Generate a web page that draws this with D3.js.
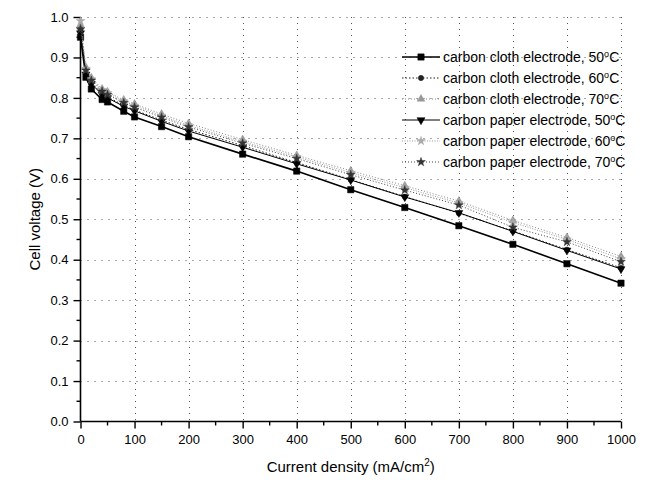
<!DOCTYPE html>
<html>
<head>
<meta charset="utf-8">
<script src="https://d3js.org/d3.v7.min.js"></script>
<style>
  body { margin: 0; background: #fff; }
  text { font-family: Arial, "Liberation Sans", sans-serif; fill: #000; }
</style>
</head>
<body>
<div id="chart"></div>
<script>
// current density points (mA/cm2)
const currents = [0, 10, 20, 40, 50, 80, 100, 150, 200, 300, 400, 500, 600, 700, 800, 900, 1000];

// cell voltage (V) for each run
const cloth50 = [0.95, 0.851, 0.822, 0.796, 0.790, 0.767, 0.753, 0.729, 0.704, 0.661, 0.619, 0.573, 0.529, 0.484, 0.438, 0.390, 0.342];
const cloth60 = [0.97, 0.862, 0.838, 0.810, 0.802, 0.782, 0.770, 0.745, 0.722, 0.682, 0.640, 0.598, 0.556, 0.515, 0.471, 0.425, 0.380];
const cloth70 = [0.98, 0.876, 0.850, 0.822, 0.815, 0.795, 0.785, 0.760, 0.737, 0.697, 0.658, 0.620, 0.583, 0.545, 0.497, 0.455, 0.408];
const paper50 = [0.96, 0.858, 0.835, 0.808, 0.800, 0.779, 0.768, 0.742, 0.718, 0.678, 0.637, 0.597, 0.555, 0.516, 0.470, 0.423, 0.377];
const paper60 = [0.99, 0.872, 0.846, 0.820, 0.812, 0.792, 0.781, 0.756, 0.732, 0.692, 0.654, 0.615, 0.578, 0.540, 0.492, 0.450, 0.402];
const paper70 = [0.97, 0.868, 0.843, 0.816, 0.808, 0.788, 0.777, 0.752, 0.728, 0.688, 0.650, 0.610, 0.572, 0.535, 0.480, 0.444, 0.395];

const seriesNames = [
  "carbon cloth electrode, 50°C",
  "carbon cloth electrode, 60°C",
  "carbon cloth electrode, 70°C",
  "carbon paper electrode, 50°C",
  "carbon paper electrode, 60°C",
  "carbon paper electrode, 70°C"
];
const seriesValues = [cloth50, cloth60, cloth70, paper50, paper60, paper70];

const xTicks = [0, 100, 200, 300, 400, 500, 600, 700, 800, 900, 1000];
const yTicks = [0.0, 0.1, 0.2, 0.3, 0.4, 0.5, 0.6, 0.7, 0.8, 0.9, 1.0];

// look of each run
const styles = [
  {color: "#000", width: 1.6, dash: null, symbol: d3.symbolSquare, size: 40, fill: "#000"},
  {color: "#222", width: 1, dash: "1.5,2", symbol: d3.symbolCircle, size: 22, fill: "#222"},
  {color: "#888", width: 1, dash: "1,2", symbol: d3.symbolTriangle, size: 26, fill: "#999"},
  {color: "#000", width: 1, dash: null, symbol: d3.symbolTriangle, size: 28, fill: "#000", rotate: 180},
  {color: "#999", width: 1, dash: "1,1.5", symbol: d3.symbolStar, size: 24, fill: "#aaa"},
  {color: "#444", width: 1, dash: "1,2", symbol: d3.symbolStar, size: 24, fill: "#333"}
];

const width = 651;
const height = 483;
const plotL = 80.5, plotR = 621, plotT = 17, plotB = 421.5;

const svg = d3.select("#chart")
  .append("svg")
  .attr("width", width)
  .attr("height", height);

const x = d3.scaleLinear().domain([0, 1000]).range([plotL, plotR]);
const y = d3.scaleLinear().domain([0, 1]).range([plotB, plotT]);

// dotted grid
const grid = svg.append("g");

grid.selectAll(".vgrid")
  .data(xTicks.slice(1))
  .enter().append("line")
    .attr("class", "vgrid")
    .attr("x1", d => Math.round(x(d)) + 0.5)
    .attr("x2", d => Math.round(x(d)) + 0.5)
    .attr("y1", plotT)
    .attr("y2", plotB)
    .attr("stroke", "#555")
    .attr("stroke-width", 1)
    .attr("stroke-dasharray", "1,5");

grid.selectAll(".hgrid")
  .data(yTicks.slice(1))
  .enter().append("line")
    .attr("class", "hgrid")
    .attr("x1", plotL)
    .attr("x2", plotR)
    .attr("y1", d => Math.round(y(d)) + 0.5)
    .attr("y2", d => Math.round(y(d)) + 0.5)
    .attr("stroke", "#555")
    .attr("stroke-width", 1)
    .attr("stroke-dasharray", "1,6");

// axes
const xAxis = d3.axisBottom(x).tickValues(xTicks).tickFormat(d3.format("d")).tickSize(7).tickPadding(6);
const yAxis = d3.axisLeft(y).tickValues(yTicks).tickFormat(d3.format(".1f")).tickSize(7).tickPadding(5);

const gx = svg.append("g")
  .attr("transform", `translate(0,${plotB})`)
  .call(xAxis);
gx.select(".domain").attr("d", `M${plotL},0H${plotR}`).attr("stroke-width", 1.6);
gx.selectAll(".tick line").attr("stroke-width", 1.4);
gx.selectAll("text").attr("font-size", 13);

gx.selectAll("line.minor")
  .data(d3.range(50, 1000, 100))
  .enter().append("line")
    .attr("x1", d => x(d)).attr("x2", d => x(d))
    .attr("y1", 0).attr("y2", 4)
    .attr("stroke", "#000").attr("stroke-width", 1.4);

const gy = svg.append("g")
  .attr("transform", `translate(${plotL},0)`)
  .call(yAxis);
gy.select(".domain").attr("d", `M0,${plotT}V${plotB}`).attr("stroke-width", 1.6);
gy.selectAll(".tick line").attr("stroke-width", 1.4);
gy.selectAll("text").attr("font-size", 13);

gy.selectAll("line.minor")
  .data(d3.range(0.05, 1, 0.1))
  .enter().append("line")
    .attr("x1", 0).attr("x2", -4)
    .attr("y1", d => y(d)).attr("y2", d => y(d))
    .attr("stroke", "#000").attr("stroke-width", 1.4);

// axis titles
const xt = svg.append("text")
  .attr("x", (plotL + plotR) / 2)
  .attr("y", 472)
  .attr("text-anchor", "middle")
  .attr("font-size", 15);
xt.append("tspan").text("Current density (mA/cm");
xt.append("tspan").attr("dy", -6).attr("font-size", 10).text("2");
xt.append("tspan").attr("dy", 6).text(")");

svg.append("text")
  .attr("transform", `translate(40,${(plotT + plotB) / 2}) rotate(-90)`)
  .attr("text-anchor", "middle")
  .attr("font-size", 15)
  .text("Cell voltage (V)");

// lines and markers
const line = d3.line()
  .x((d, i) => x(currents[i]))
  .y(d => y(d));

seriesValues.forEach((vals, k) => {
  const s = styles[k];
  svg.append("path")
    .datum(vals)
    .attr("fill", "none")
    .attr("stroke", s.color)
    .attr("stroke-width", s.width)
    .attr("stroke-dasharray", s.dash)
    .attr("d", line);

  svg.append("g")
    .selectAll("path")
    .data(vals)
    .enter().append("path")
      .attr("d", d3.symbol().type(s.symbol).size(s.size))
      .attr("transform", (d, i) => `translate(${x(currents[i])},${y(d)}) rotate(${s.rotate || 0})`)
      .attr("fill", s.fill)
      .attr("stroke", s.fill)
      .attr("stroke-width", 0.5);
});

// legend
const legend = svg.append("g").attr("transform", "translate(402,57)");
const rowH = 21;

seriesNames.forEach((name, k) => {
  const s = styles[k];
  const row = legend.append("g").attr("transform", `translate(0,${k * rowH})`);
  row.append("line")
    .attr("x1", 0).attr("x2", 38)
    .attr("y1", 0).attr("y2", 0)
    .attr("stroke", s.color)
    .attr("stroke-width", s.width)
    .attr("stroke-dasharray", s.dash);
  row.append("path")
    .attr("d", d3.symbol().type(s.symbol).size(s.size))
    .attr("transform", `translate(19,0) rotate(${s.rotate || 0})`)
    .attr("fill", s.fill)
    .attr("stroke", s.fill)
    .attr("stroke-width", 0.5);
  const t = row.append("text")
    .attr("x", 41)
    .attr("y", 5)
    .attr("font-size", 14);
  t.append("tspan").text(name.replace("°C", ""));
  t.append("tspan").attr("dy", -5).attr("font-size", 9).text("o");
  t.append("tspan").attr("dy", 5).text("C");
});
</script>
</body>
</html>
